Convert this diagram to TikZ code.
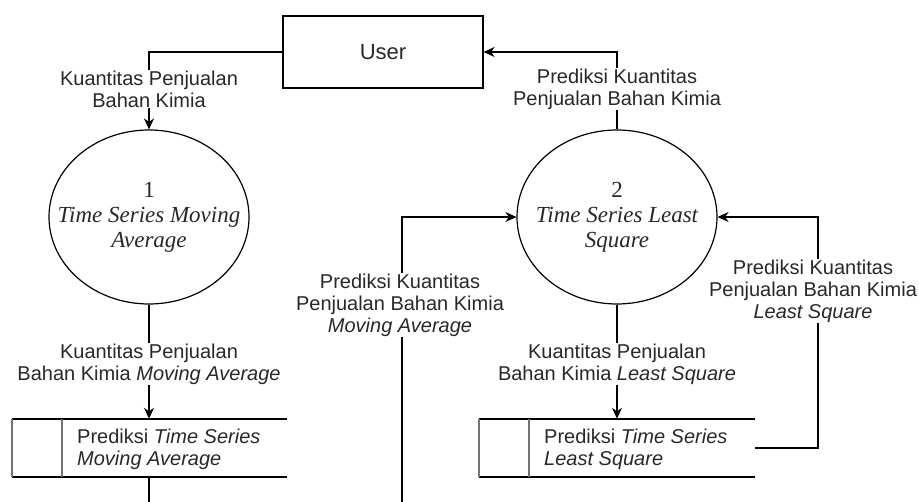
\documentclass[tikz,border=0pt]{standalone}
\usepackage{fontspec}
\setmainfont{Liberation Sans}
\newfontfamily\circfont{Liberation Serif}
\usetikzlibrary{shapes.geometric,arrows.meta}
\definecolor{txt}{RGB}{40,40,40}
\tikzset{
  conn/.style={line width=1.2pt, draw=black},
  arr/.style={conn, -{Stealth[length=11pt,width=10pt]}},
  proc/.style={ellipse, draw, line width=1.2pt, minimum width=200pt, minimum height=174pt, inner sep=0pt},
  proctext/.style={align=center, text=txt, font=\circfont\fontsize{23}{25}\selectfont\itshape},
  flowlbl/.style={fill=white, inner sep=1pt, align=center, text=txt, font=\fontsize{20}{22}\selectfont},
  entity/.style={draw, line width=1.2pt, minimum width=200pt, minimum height=72pt, inner sep=0pt, text=txt, font=\fontsize{22}{24}\selectfont},
  storearea/.style={minimum width=275pt, minimum height=58pt, inner sep=0pt},
  storetext/.style={anchor=west, align=left, text=txt, inner sep=0pt, font=\fontsize{20}{22}\selectfont},
  storeline/.style={line width=1.2pt},
  storeedge/.style={line width=1.8pt, draw=black!55}
}
\begin{document}
\begin{tikzpicture}[x=1pt,y=-1pt]
\useasboundingbox (0,0) rectangle (919,502);
% entity
\node[entity] (u) at (383,52) {User};
% processes
\node[proc] (c1) at (149,217) {};
\node[proctext] (t1) at (c1.center) {\upshape 1\\Time Series Moving\\Average};
\node[proc] (c2) at (617,217) {};
\node[proctext] (t2) at (c2.center) {\upshape 2\\Time Series Least\\Square};
% stores
\node[storearea] (s1) at (149.5,448) {};
\draw[storeline] (12,419) -- (287,419) (12,477) -- (287,477);
\draw[storeedge] (12,419) -- (12,477) (62,419) -- (62,477);
\node[storetext] (st1) at (77,449) {Prediksi \textit{Time Series}\\\textit{Moving Average}};
\node[storearea] (s2) at (617,448) {};
\draw[storeline] (479,419) -- (755,419) (479,477) -- (755,477);
\draw[storeedge] (479,419) -- (479,477) (529,419) -- (529,477);
\node[storetext] (st2) at (544,449) {Prediksi \textit{Time Series}\\\textit{Least Square}};
% free ends
\coordinate (e1) at (149,502);
\coordinate (e2) at (402,502);
\coordinate (r2) at (755,448);
% connectors
\draw[arr] (u.west) -| (c1.north);
\draw[arr] (c2.north) |- (u.east);
\draw[arr] (c1.south) -- (c1.south |- s1.north);
\draw[conn] (c1.south |- s1.south) -- (e1);
\draw[arr] (e2) |- (c2.west);
\draw[arr] (c2.south) -- (c2.south |- s2.north);
\draw[arr] (r2) -- (818,448) |- (c2.east);
% labels
\node[flowlbl] (la) at (149,89) {Kuantitas Penjualan\\Bahan Kimia};
\node[flowlbl] (lb) at (617,89) {Prediksi Kuantitas\\Penjualan Bahan Kimia};
\node[flowlbl] (lc) at (149,364) {Kuantitas Penjualan\\Bahan Kimia \textit{Moving Average}};
\node[flowlbl] (ld) at (617,364) {Kuantitas Penjualan\\Bahan Kimia \textit{Least Square}};
\node[flowlbl] (le) at (400,305) {Prediksi Kuantitas\\Penjualan Bahan Kimia\\\textit{Moving Average}};
\node[flowlbl] (lf) at (813,291) {Prediksi Kuantitas\\Penjualan Bahan Kimia\\\textit{Least Square}};
\end{tikzpicture}
\end{document}
